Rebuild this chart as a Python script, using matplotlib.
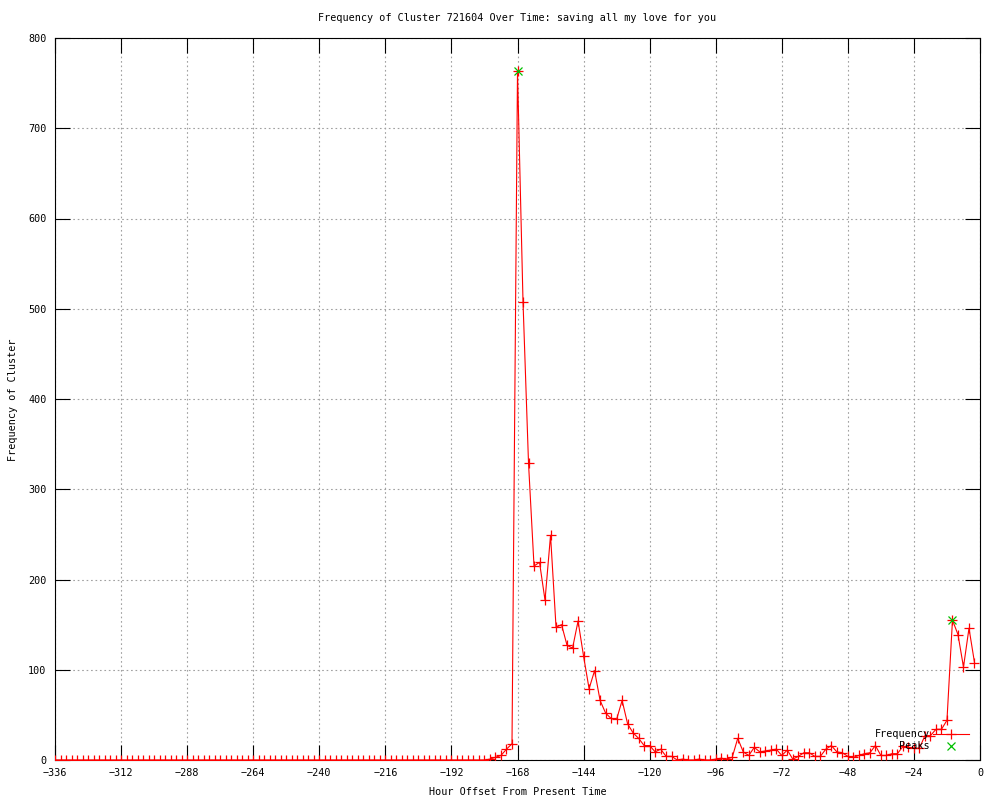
import matplotlib
matplotlib.use('Agg')
import matplotlib.pyplot as plt
import numpy as np

# hour offsets, every 2 hours from -336 to -2
hours = np.arange(-336, 0, 2)

freq_early = [0, 0, 0, 0, 0, 0, 0, 0, 0, 0, 0, 0, 0,
              0, 0, 0, 0, 0, 0, 0, 0, 0, 0, 0, 0, 0,
              0, 0, 0, 0, 0, 0, 0, 0, 0, 0, 0, 0, 0,
              0, 0, 0, 0, 0, 0, 0, 0, 0, 0, 0, 0, 0,
              0, 0, 0, 0, 0, 0, 0, 0, 0, 0, 0, 0, 0,
              0, 0, 0, 0, 0, 0, 0, 0, 0, 0, 0, 0, 0]   # -336 .. -182
freq_late = [0, 1, 3, 5, 12, 18,
             763, 508, 329, 215, 219, 177, 249, 147, 150, 127,
             124, 154, 115, 79, 99, 66, 52, 46, 45, 66,
             40, 30, 24, 16, 16, 9, 12, 4, 4, 0,
             1, 0, 0, 1, 0, 0, 1, 2, 1, 3,
             24, 9, 5, 14, 9, 10, 11, 12, 5, 11,
             1, 4, 8, 8, 4, 4, 12, 16, 9, 8,
             4, 3, 5, 7, 8, 16, 5, 5, 7, 7,
             15, 14, 13, 13, 27, 27, 34, 34, 44, 155,
             139, 103, 146, 108]                          # -180 .. -2
freq = freq_early + freq_late

peak_hours = [-168, -10]
peak_values = [763, 155]

title = 'Frequency of Cluster 721604 Over Time: saving all my love for you'

plt.rcParams['font.family'] = 'DejaVu Sans Mono'
plt.rcParams['font.size'] = 7.3

fig = plt.figure(figsize=(10, 8), dpi=100)
ax = fig.add_axes([0.055, 0.05, 0.925, 0.9025])

ax.plot(hours, freq, color='red', lw=0.8, marker='+', ms=7, mew=0.9,
        label='Frequency', zorder=3)
ax.plot(peak_hours, peak_values, ls='none', marker='x', color='#00c000',
        ms=6, mew=0.9, label='Peaks', zorder=4)

ax.set_xlim(-336, 0)
ax.set_ylim(0, 800)
ax.set_xticks(np.arange(-336, 1, 24))
ax.set_yticks(np.arange(0, 801, 100))
ax.tick_params(direction='in', length=11, width=0.8, top=True, right=True,
               labelsize=7.3)
ax.tick_params(axis='x', pad=6)
ax.tick_params(axis='y', pad=6)
ax.grid(True, color='#a0a0a0', ls=(0, (1.5, 2.5)), lw=0.8)
ax.set_axisbelow(True)
for s in ax.spines.values():
    s.set_linewidth(0.8)

fig.text(0.5175, 0.9775, title, ha='center', va='center', fontsize=7.3)
fig.text(0.5175, 0.01, 'Hour Offset From Present Time', ha='center', va='center', fontsize=7.3)
fig.text(0.013, 0.5, 'Frequency of Cluster', rotation=90, ha='center', va='center', fontsize=7.3)

ax.legend(loc='lower right', bbox_to_anchor=(0.994, 0.005), frameon=False,
          markerfirst=False, handlelength=3.6, handletextpad=0.3,
          labelspacing=0.2, borderpad=0, fontsize=7.3)

fig.savefig('out.png', dpi=100)
